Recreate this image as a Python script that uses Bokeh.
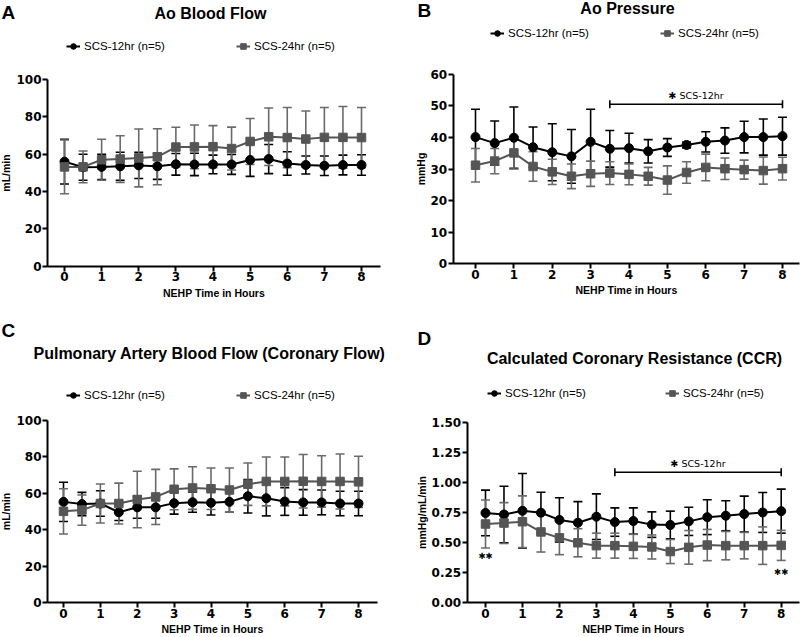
import numpy as np
from bokeh.plotting import figure
from bokeh.models import (ColumnDataSource, Whisker, TeeHead, Label, Legend, LegendItem,
                          FixedTicker, Range1d, NumeralTickFormatter)
from bokeh.layouts import column, row
from bokeh.embed import file_html
from bokeh.resources import INLINE

# ---------------- data ----------------
time_h = [0, 0.5, 1, 1.5, 2, 2.5, 3, 3.5, 4, 4.5, 5, 5.5, 6, 6.5, 7, 7.5, 8]
x_ticks = [0, 1, 2, 3, 4, 5, 6, 7, 8]
series_labels = ["SCS-12hr (n=5)", "SCS-24hr (n=5)"]
x_label = "NEHP Time in Hours"

# A: Ao Blood Flow (mL/min)
a_12_mean = [56.0, 53.0, 53.2, 53.5, 54.0, 53.5, 54.6, 54.5, 54.5, 54.5, 56.9, 57.4, 55.0, 54.2, 53.8, 54.2, 54.2]
a_12_sd = [12.0, 7.0, 6.8, 7.5, 7.0, 7.0, 5.8, 6.0, 5.0, 5.3, 8.8, 7.8, 6.3, 4.8, 5.2, 5.3, 5.5]
a_24_mean = [53.2, 53.2, 57.0, 57.4, 58.0, 58.6, 63.8, 63.9, 64.0, 63.0, 66.8, 69.3, 68.9, 68.1, 69.0, 69.0, 68.9]
a_24_sd = [14.4, 8.5, 11.0, 12.5, 15.5, 15.0, 10.6, 11.7, 11.3, 11.5, 12.3, 15.4, 16.1, 15.0, 16.0, 16.5, 16.1]
a_yticks = [0, 20, 40, 60, 80, 100]

# B: Ao Pressure (mmHg)
b_12_mean = [40.1, 38.2, 39.9, 36.9, 35.3, 34.0, 38.6, 36.4, 36.6, 35.6, 36.8, 37.6, 38.6, 39.0, 40.1, 40.1, 40.4]
b_12_sd = [8.8, 7.0, 9.7, 6.4, 9.0, 8.5, 10.3, 5.8, 4.7, 3.7, 2.8, 0.9, 3.2, 4.0, 5.0, 5.7, 6.0]
b_24_mean = [31.2, 32.5, 35.1, 30.8, 29.1, 27.7, 28.5, 28.7, 28.3, 27.7, 26.5, 28.9, 30.5, 30.1, 29.8, 29.5, 30.1]
b_24_sd = [5.3, 4.0, 5.1, 4.7, 4.0, 3.9, 4.0, 3.6, 3.3, 2.8, 4.5, 3.4, 4.2, 3.4, 3.0, 4.3, 3.6]
b_yticks = [0, 10, 20, 30, 40, 50, 60]

# C: Pulmonary Artery Blood Flow (mL/min)
c_12_mean = [55.2, 54.0, 54.3, 49.5, 52.2, 52.2, 54.5, 55.0, 54.7, 55.2, 58.3, 57.2, 55.4, 54.9, 54.9, 54.3, 54.3]
c_12_sd = [10.8, 6.4, 7.0, 4.5, 6.0, 6.0, 6.0, 5.5, 6.7, 5.7, 9.2, 9.7, 7.6, 7.0, 6.8, 6.7, 6.7]
c_24_mean = [50.0, 50.7, 54.3, 54.3, 56.5, 57.9, 62.1, 62.8, 62.4, 61.7, 64.9, 66.4, 66.4, 66.5, 66.4, 66.4, 66.2]
c_24_sd = [12.4, 8.3, 10.7, 11.2, 15.5, 15.1, 11.2, 11.7, 11.4, 12.1, 11.6, 13.4, 13.4, 14.7, 14.1, 15.1, 14.0]
c_yticks = [0, 20, 40, 60, 80, 100]

# D: Calculated Coronary Resistance (mmHg/mL/min)
d_12_mean = [0.745, 0.732, 0.763, 0.747, 0.687, 0.664, 0.714, 0.669, 0.678, 0.648, 0.645, 0.675, 0.710, 0.722, 0.736, 0.749, 0.760]
d_12_sd = [0.19, 0.235, 0.31, 0.17, 0.185, 0.175, 0.19, 0.118, 0.109, 0.106, 0.115, 0.117, 0.145, 0.125, 0.149, 0.166, 0.183]
d_24_mean = [0.653, 0.661, 0.672, 0.587, 0.538, 0.497, 0.473, 0.473, 0.467, 0.462, 0.424, 0.459, 0.478, 0.473, 0.473, 0.473, 0.475]
d_24_sd = [0.20, 0.17, 0.215, 0.167, 0.14, 0.117, 0.104, 0.104, 0.10, 0.10, 0.10, 0.14, 0.13, 0.118, 0.11, 0.156, 0.125]
d_yticks = [0, 0.25, 0.5, 0.75, 1.0, 1.25, 1.5]

# significance annotations
sig_span = [3.5, 8]
sig_text = "\u2731 SCS-12hr"
b_sig_level = 50.5
b_sig_text_y = 53.3
d_sig_level = 1.083
d_sig_text_y = 1.156
d_pair_marks_x = [0, 8]
d_pair_marks_y = [0.385, 0.254]
pair_mark_text = "\u2731\u2731"

# ---------------- style ----------------
BLACK = "#000000"
GREY = "#555555"
GREY_BAR = "#6a6a6a"
TICK_FONT = "DejaVu Sans"
LABEL_FONT = "Liberation Sans"


class Geo:
    """Maps page pixel positions of the panel to its data coordinates."""
    def __init__(self, fx0, fy0, w, h, x0_px, x8_px, ytop_val, ytop_px, y0_px):
        self.fx0, self.fy0, self.w, self.h = fx0, fy0, w, h
        self.x0_px, self.y0_px = x0_px, y0_px
        self.kx = (x8_px - x0_px) / 8.0
        self.ky = (y0_px - ytop_px) / ytop_val
        self.xr = (self.dx(fx0), self.dx(fx0 + w))
        self.yr = (self.dy(fy0 + h), self.dy(fy0))

    def dx(self, px):
        return (px - self.x0_px) / self.kx

    def dy(self, py):
        return (self.y0_px - py) / self.ky


def make_panel(g, yticks, yaxis_px, xaxis_end_px, ylabel, yfmt=None):
    p = figure(width=g.w, height=g.h, x_range=Range1d(*g.xr), y_range=Range1d(*g.yr),
               output_backend="svg", toolbar_location=None,
               min_border_left=0, min_border_right=0, min_border_top=0, min_border_bottom=0,
               background_fill_color="white", border_fill_color="white")
    p.outline_line_color = None
    p.xgrid.grid_line_color = None
    p.ygrid.grid_line_color = None
    xa, ya = p.xaxis[0], p.yaxis[0]
    xa.ticker = FixedTicker(ticks=x_ticks)
    ya.ticker = FixedTicker(ticks=yticks)
    if yfmt:
        ya.formatter = NumeralTickFormatter(format=yfmt)
    x_left = g.dx(yaxis_px)
    xa.fixed_location = 0
    xa.bounds = (x_left, g.dx(xaxis_end_px))
    ya.fixed_location = x_left
    ya.bounds = (yticks[0], yticks[-1])
    xa.axis_label = x_label
    ya.axis_label = ylabel
    for ax in (xa, ya):
        ax.axis_line_width = 2
        ax.axis_line_color = BLACK
        ax.major_tick_line_width = 2
        ax.major_tick_line_color = BLACK
        ax.major_tick_out = 5
        ax.major_tick_in = 0
        ax.minor_tick_line_color = None
        ax.major_label_text_font = TICK_FONT
        ax.major_label_text_font_style = "bold"
        ax.major_label_text_font_size = "12px"
        ax.major_label_text_color = BLACK
        ax.major_label_standoff = 1
        ax.axis_label_text_font = LABEL_FONT
        ax.axis_label_text_font_style = "bold"
        ax.axis_label_text_font_size = "10.5px"
        ax.axis_label_text_color = BLACK
        ax.axis_label_standoff = 2
    ya.axis_label_standoff = 1
    return p


def add_series(p, mean, sd, color, bar_color, marker, size):
    m = np.array(mean)
    s = np.array(sd)
    src = ColumnDataSource(dict(x=time_h, y=m, upper=m + s, lower=m - s))
    w = Whisker(source=src, base="x", upper="upper", lower="lower",
                line_color=bar_color, line_width=1.6, level="underlay",
                upper_head=TeeHead(size=9, line_color=bar_color, line_width=1.6),
                lower_head=TeeHead(size=9, line_color=bar_color, line_width=1.6))
    p.add_layout(w)
    lr = p.line("x", "y", source=src, line_color=color, line_width=2)
    sr = p.scatter("x", "y", source=src, marker=marker, size=size,
                   fill_color=color, line_color=color)
    return [lr, sr]


def add_legend(p, g, label, renderers, marker_px, center_py):
    leg = Legend(items=[LegendItem(label=label, renderers=renderers)],
                 location=(marker_px - 7 - g.fx0, g.fy0 + g.h - (center_py + 10)),
                 orientation="horizontal",
                 glyph_width=14, glyph_height=20, label_standoff=4,
                 padding=0, margin=0, border_line_color=None,
                 background_fill_alpha=0, label_text_font=LABEL_FONT,
                 label_text_font_size="11.5px", label_text_color=BLACK)
    p.add_layout(leg)


def add_text(p, g, px, py, text, size, align="center"):
    p.add_layout(Label(x=g.dx(px), y=g.dy(py), text=text, text_align=align,
                       text_baseline="middle", text_font=LABEL_FONT,
                       text_font_style="bold", text_font_size=size, text_color=BLACK))


def add_bracket(p, level, text_y):
    src = ColumnDataSource(dict(base=[level], lo=[sig_span[0]], hi=[sig_span[1]]))
    w = Whisker(source=src, base="base", lower="lo", upper="hi", dimension="width",
                line_color=BLACK, line_width=1.6,
                upper_head=TeeHead(size=8, line_color=BLACK, line_width=1.6),
                lower_head=TeeHead(size=8, line_color=BLACK, line_width=1.6))
    p.add_layout(w)
    p.add_layout(Label(x=(sig_span[0] + sig_span[1]) / 2, y=text_y, text=sig_text,
                       text_align="center", text_baseline="middle",
                       text_font="DejaVu Sans", text_font_size="9.5px", text_color=BLACK))


# ---------------- panel A ----------------
ga_ = Geo(0, 0, 400, 318, 64, 361, 100, 79, 265.7)
pa = make_panel(ga_, a_yticks, 47, 380, "mL/min")
ra = add_series(pa, a_12_mean, a_12_sd, BLACK, BLACK, "circle", 9)
qa = add_series(pa, a_24_mean, a_24_sd, GREY, GREY_BAR, "square", 8.5)
add_legend(pa, ga_, series_labels[0], ra, 73, 46)
add_legend(pa, ga_, series_labels[1], qa, 243, 46)
add_text(pa, ga_, 210, 13, "Ao Blood Flow", "16px")
add_text(pa, ga_, 1, 12, "A", "19px", align="left")

# ---------------- panel B ----------------
gb_ = Geo(400, 0, 400, 318, 475, 782, 60, 73.7, 263.3)
pb = make_panel(gb_, b_yticks, 452.7, 799, "mmHg")
rb = add_series(pb, b_12_mean, b_12_sd, BLACK, BLACK, "circle", 9)
qb = add_series(pb, b_24_mean, b_24_sd, GREY, GREY_BAR, "square", 8.5)
add_legend(pb, gb_, series_labels[0], rb, 497, 33)
add_legend(pb, gb_, series_labels[1], qb, 667, 33)
add_text(pb, gb_, 627, 8, "Ao Pressure", "16px")
add_text(pb, gb_, 417, 10, "B", "19px", align="left")
add_bracket(pb, b_sig_level, b_sig_text_y)

# ---------------- panel C ----------------
gc_ = Geo(0, 318, 400, 319, 63, 358, 100, 419.7, 602)
pc = make_panel(gc_, c_yticks, 47, 377, "mL/min")
rc = add_series(pc, c_12_mean, c_12_sd, BLACK, BLACK, "circle", 9)
qc = add_series(pc, c_24_mean, c_24_sd, GREY, GREY_BAR, "square", 8.5)
add_legend(pc, gc_, series_labels[0], rc, 73, 395)
add_legend(pc, gc_, series_labels[1], qc, 243, 395)
add_text(pc, gc_, 209, 353, "Pulmonary Artery Blood Flow (Coronary Flow)", "16px")
add_text(pc, gc_, 1, 330, "C", "19px", align="left")

# ---------------- panel D ----------------
gd_ = Geo(400, 318, 400, 319, 485, 780.7, 1.5, 421.7, 602)
pd_ = make_panel(gd_, d_yticks, 466.7, 799, "mmHg/mL/min", "0.00")
rd = add_series(pd_, d_12_mean, d_12_sd, BLACK, BLACK, "circle", 9)
qd = add_series(pd_, d_24_mean, d_24_sd, GREY, GREY_BAR, "square", 8.5)
add_legend(pd_, gd_, series_labels[0], rd, 494, 393)
add_legend(pd_, gd_, series_labels[1], qd, 672, 393)
add_text(pd_, gd_, 634, 358, "Calculated Coronary Resistance (CCR)", "16px")
add_text(pd_, gd_, 417, 338, "D", "19px", align="left")
add_bracket(pd_, d_sig_level, d_sig_text_y)
for xm, ym in zip(d_pair_marks_x, d_pair_marks_y):
    pd_.add_layout(Label(x=xm, y=ym, text=pair_mark_text, text_align="center",
                         text_baseline="middle", text_font="DejaVu Sans",
                         text_font_size="8.5px", text_color=BLACK))

layout = column(row(pa, pb), row(pc, pd_))
open("out.html", "w").write(file_html(layout, INLINE))
